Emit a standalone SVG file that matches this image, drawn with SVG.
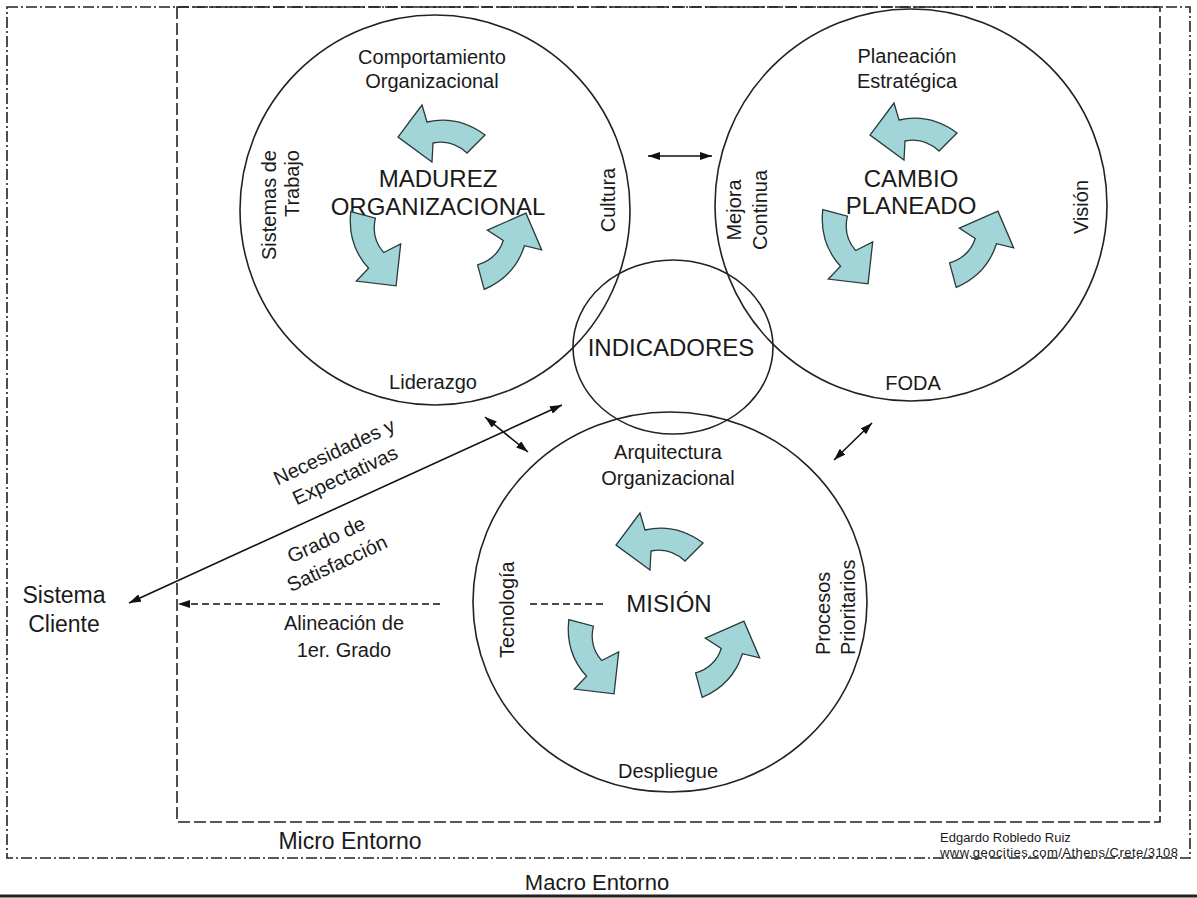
<svg xmlns="http://www.w3.org/2000/svg" xmlns:xlink="http://www.w3.org/1999/xlink" width="1197" height="898" viewBox="0 0 1197 898">
<style>
text{font-family:"Liberation Sans",Arial,sans-serif;fill:#1a1a1a}
.lbl{font-size:20px}
.big{font-size:24px}
.mid{text-anchor:middle}
.ring{fill:none;stroke:#222;stroke-width:1.6}
.carrow{fill:#a2d5d8;stroke:#2a3a3a;stroke-width:1.3;stroke-linejoin:miter}
.ln{stroke:#111;stroke-width:1.6;fill:none}
.dash{stroke:#111;stroke-width:1.5;fill:none;stroke-dasharray:7 4}
.outer{fill:none;stroke:#222;stroke-width:1.6;stroke-dasharray:11 3 2 3}
.inner{fill:none;stroke:#222;stroke-width:1.6;stroke-dasharray:12 4}
.small{font-size:13px}
</style>
<defs>
<marker id="ah" viewBox="0 0 12 8" refX="12" refY="4" markerWidth="12" markerHeight="8" markerUnits="userSpaceOnUse" orient="auto-start-reverse">
<path d="M0,0 L12,4 L0,8 Z" fill="#111"/>
</marker>
<path id="carrow" class="carrow" d="M45,-77 Q18,-97 -13,-90 L-18,-107 L-42,-75 L-8,-50 L-7,-69 Q12,-73 27,-59 Z"/>
</defs>
<rect width="1197" height="898" fill="#ffffff"/>

<g id="macro-entorno">
<rect class="outer" x="7" y="7" width="1183" height="851"/>
<line x1="0" y1="896" x2="1197" y2="896" stroke="#222" stroke-width="3"/>
<text class="lbl mid" x="597" y="890" style="font-size:22px">Macro Entorno</text>
</g>

<g id="micro-entorno">
<rect class="inner" x="177" y="7" width="983" height="815"/>
<text class="lbl mid" x="350" y="849" style="font-size:23px">Micro Entorno</text>
</g>

<g id="sistema-cliente">
<text class="mid" x="64" y="603" style="font-size:23px">Sistema</text>
<text class="mid" x="64" y="632" style="font-size:23px">Cliente</text>
</g>

<g id="madurez">
<circle class="ring" cx="435" cy="210" r="195"/>
<text class="lbl mid" x="432" y="64">Comportamiento</text>
<text class="lbl mid" x="432" y="88">Organizacional</text>
<text class="big mid" x="438" y="187">MADUREZ</text>
<text class="big mid" x="438" y="215">ORGANIZACIONAL</text>
<text class="lbl mid" x="433" y="389">Liderazgo</text>
<text class="lbl" transform="translate(276,150) rotate(-90)" text-anchor="end">Sistemas de</text>
<text class="lbl" transform="translate(299,150) rotate(-90)" text-anchor="end">Trabajo</text>
<text class="lbl mid" transform="translate(615,200) rotate(-90)">Cultura</text>
<use xlink:href="#carrow" href="#carrow" transform="translate(440,212)"/>
<use xlink:href="#carrow" href="#carrow" transform="translate(440,212) rotate(-120)"/>
<use xlink:href="#carrow" href="#carrow" transform="translate(440,212) rotate(120)"/>
</g>

<g id="cambio">
<circle class="ring" cx="911" cy="205" r="196"/>
<text class="lbl mid" x="907" y="63">Planeación</text>
<text class="lbl mid" x="907" y="88">Estratégica</text>
<text class="big mid" x="911" y="187">CAMBIO</text>
<text class="big mid" x="911" y="214">PLANEADO</text>
<text class="lbl mid" x="913" y="390">FODA</text>
<text class="lbl mid" transform="translate(741,210) rotate(-90)">Mejora</text>
<text class="lbl mid" transform="translate(767,210) rotate(-90)">Continua</text>
<text class="lbl mid" transform="translate(1088,207) rotate(-90)">Visión</text>
<use xlink:href="#carrow" href="#carrow" transform="translate(912,210)"/>
<use xlink:href="#carrow" href="#carrow" transform="translate(912,210) rotate(-120)"/>
<use xlink:href="#carrow" href="#carrow" transform="translate(912,210) rotate(120)"/>
</g>

<g id="mision">
<ellipse class="ring" cx="670" cy="602" rx="197" ry="190"/>
<text class="lbl mid" x="668" y="459">Arquitectura</text>
<text class="lbl mid" x="668" y="485">Organizacional</text>
<text class="big mid" x="669" y="612">MISIÓN</text>
<text class="lbl mid" x="668" y="778">Despliegue</text>
<text class="lbl" transform="translate(514,658) rotate(-90)">Tecnología</text>
<text class="lbl" transform="translate(830,655) rotate(-90)">Procesos</text>
<text class="lbl" transform="translate(855,655) rotate(-90)">Prioritarios</text>
<use xlink:href="#carrow" href="#carrow" transform="translate(658,620)"/>
<use xlink:href="#carrow" href="#carrow" transform="translate(658,620) rotate(-120)"/>
<use xlink:href="#carrow" href="#carrow" transform="translate(658,620) rotate(120)"/>
</g>

<g id="indicadores">
<ellipse class="ring" cx="673" cy="347" rx="100" ry="87"/>
<text class="big mid" x="671" y="356">INDICADORES</text>
</g>

<g id="connectors">
<line class="ln" x1="648" y1="156" x2="712" y2="156" marker-start="url(#ah)" marker-end="url(#ah)"/>
<line class="ln" x1="485" y1="417" x2="528" y2="452" marker-start="url(#ah)" marker-end="url(#ah)"/>
<line class="ln" x1="834" y1="460" x2="872" y2="423" marker-start="url(#ah)" marker-end="url(#ah)"/>
<line class="ln" x1="129" y1="603" x2="562" y2="405" marker-start="url(#ah)" marker-end="url(#ah)"/>
<line class="dash" x1="440" y1="604" x2="178" y2="604" marker-end="url(#ah)"/>
<line class="dash" x1="530" y1="604" x2="605" y2="604"/>
<g transform="translate(337,458) rotate(-25)">
<text class="lbl mid" x="0" y="0">Necesidades y</text>
<text class="lbl mid" x="0" y="26">Expectativas</text>
</g>
<g transform="translate(329,546) rotate(-25)">
<text class="lbl mid" x="0" y="0">Grado de</text>
<text class="lbl mid" x="0" y="26">Satisfacción</text>
</g>
<text class="lbl mid" x="344" y="630">Alineación de</text>
<text class="lbl mid" x="344" y="657">1er. Grado</text>
</g>

<g id="autor">
<text class="small" x="940" y="842">Edgardo Robledo Ruiz</text>
<text class="small" x="940" y="857" textLength="238">www.geocities.com/Athens/Crete/3108</text>
</g>
</svg>
